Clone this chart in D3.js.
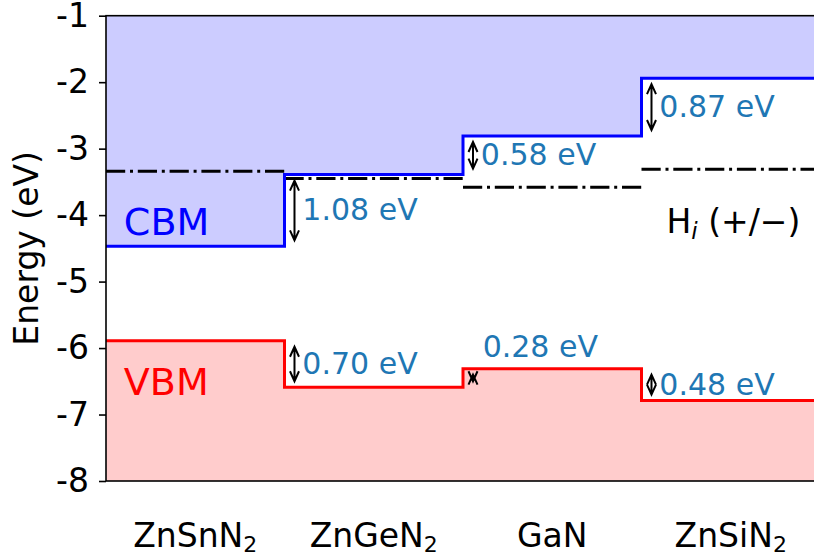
<!DOCTYPE html>
<html>
<head>
<meta charset="utf-8">
<script src="https://cdn.jsdelivr.net/npm/d3@7"></script>
<style>
  body { margin: 0; background: #fff; }
  svg { display: block; font-family: "DejaVu Sans", sans-serif; }
</style>
</head>
<body>
<div id="chart"></div>
<script>
// materials along x (formula + subscript)
const materials = ["ZnSnN", "ZnGeN", "GaN", "ZnSiN"];
const subscripts = ["2", "2", "", "2"];
// band edges, eV
const cbm = [-4.47, -3.39, -2.81, -1.94];
const vbm = [-5.89, -6.59, -6.31, -6.79];
// H_i (+/-) transition level, eV
const hLevel = [-3.34, -3.45, -3.58, -3.31];
const yTicks = [-8, -7, -6, -5, -4, -3, -2, -1];

const W = 814, H = 556;
const margin = { top: 15.7, right: -6, bottom: 75, left: 106 };
const width = W - margin.left - margin.right;
const height = H - margin.top - margin.bottom;

const svg = d3.select("#chart").append("svg")
  .attr("width", W)
  .attr("height", H);
const g = svg.append("g")
  .attr("transform", "translate(" + margin.left + "," + margin.top + ")");

const x = d3.scaleLinear().domain([0, materials.length]).range([0, width]);
const y = d3.scaleLinear().domain([-8, -1]).range([height, 0]);

// step points: one per material plus closing point at the right edge
const steps = vals => vals.map((v, i) => ({ i: i, v: v })).concat([{ i: vals.length, v: vals[vals.length - 1] }]);

const fillArea = base => d3.area()
  .x(d => x(d.i))
  .y0(y(base))
  .y1(d => y(d.v))
  .curve(d3.curveStepAfter);
const stepLine = d3.line()
  .x(d => x(d.i))
  .y(d => y(d.v))
  .curve(d3.curveStepAfter);

g.append("path").datum(steps(cbm)).attr("d", fillArea(-1)).attr("fill", "#ccccff");
g.append("path").datum(steps(vbm)).attr("d", fillArea(-8)).attr("fill", "#ffcccc");

// H_i levels, dash-dot
g.selectAll(".hlev").data(hLevel).enter().append("line")
  .attr("class", "hlev")
  .attr("x1", (d, i) => x(i))
  .attr("x2", (d, i) => x(i + 1))
  .attr("y1", d => y(d))
  .attr("y2", d => y(d))
  .attr("stroke", "#000")
  .attr("stroke-width", 3)
  .attr("stroke-dasharray", "19.2,4.8,3,4.8");

g.append("path").datum(steps(cbm)).attr("d", stepLine)
  .attr("fill", "none").attr("stroke", "#0000ff").attr("stroke-width", 3);
g.append("path").datum(steps(vbm)).attr("d", stepLine)
  .attr("fill", "none").attr("stroke", "#ff0000").attr("stroke-width", 3);

// offsets between neighbouring materials
function drawOffset(vals, i) {
  const a = vals[i - 1], b = vals[i];
  const top = Math.max(a, b), bot = Math.min(a, b);
  const ax = x(i + 0.056);
  const y1 = y(top) + 6, y2 = y(bot) - 6;
  const hl = 10, hw = 4.5;
  g.append("path")
    .attr("d", "M" + ax + "," + y1 + "L" + ax + "," + y2 +
      "M" + (ax - hw) + "," + (y1 + hl) + "L" + ax + "," + y1 + "L" + (ax + hw) + "," + (y1 + hl) +
      "M" + (ax - hw) + "," + (y2 - hl) + "L" + ax + "," + y2 + "L" + (ax + hw) + "," + (y2 - hl))
    .attr("fill", "none").attr("stroke", "#000").attr("stroke-width", 2);
  const diff = top - bot;
  const small = diff < 0.3;
  g.append("text")
    .attr("x", x(i + (small ? 0.11 : 0.1)))
    .attr("y", small ? y(top) - 12 : y((top + bot) / 2))
    .attr("dy", small ? 0 : "0.33em")
    .attr("font-size", 30)
    .attr("fill", "#1f77b4")
    .text(diff.toFixed(2) + " eV");
}
for (let i = 1; i < materials.length; i++) {
  drawOffset(cbm, i);
  drawOffset(vbm, i);
}

g.append("text").attr("x", x(0.1)).attr("y", y(-4.3))
  .attr("font-size", 38).attr("fill", "#0000ff").text("CBM");
g.append("text").attr("x", x(0.1)).attr("y", y(-6.7))
  .attr("font-size", 38).attr("fill", "#ff0000").text("VBM");

const hl = g.append("text").attr("x", x(3.14)).attr("y", y(-4.27))
  .attr("font-size", 33).attr("fill", "#000");
hl.append("tspan").text("H");
hl.append("tspan").attr("dy", 6).attr("font-size", 23).attr("font-style", "italic").text("i");
hl.append("tspan").attr("dy", -6).text(" (+/\u2212)");

// y axis
const yAxis = g.append("g")
  .call(d3.axisLeft(y).tickValues(yTicks).tickFormat(d => String(d)).tickSize(7).tickPadding(10));
yAxis.select(".domain").remove();
yAxis.selectAll(".tick line").attr("stroke", "#000").attr("stroke-width", 1.6);
yAxis.selectAll(".tick text").attr("font-size", 33).attr("fill", "#000")
  .attr("font-family", "DejaVu Sans, sans-serif");

// spines
g.append("rect").attr("x", 0).attr("y", 0).attr("width", width).attr("height", height)
  .attr("fill", "none").attr("stroke", "#000").attr("stroke-width", 1.6);

// category labels
const cat = g.selectAll(".cat").data(materials).enter().append("text")
  .attr("class", "cat")
  .attr("x", (d, i) => x(i + 0.5))
  .attr("y", height + 66)
  .attr("text-anchor", "middle")
  .attr("font-size", 33)
  .attr("fill", "#000");
cat.append("tspan").text(d => d);
cat.append("tspan").attr("dy", 5).attr("font-size", 22).text((d, i) => subscripts[i]);

svg.append("text")
  .attr("transform", "translate(38," + (margin.top + height / 2) + ") rotate(-90)")
  .attr("text-anchor", "middle")
  .attr("font-size", 33)
  .text("Energy (eV)");
</script>
</body>
</html>
